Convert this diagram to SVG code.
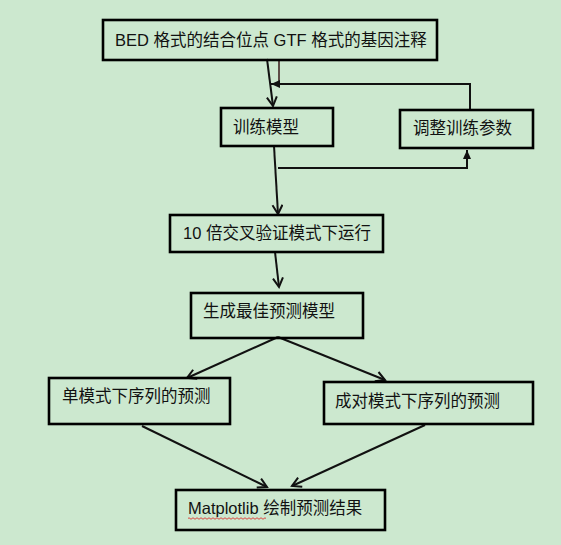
<svg xmlns="http://www.w3.org/2000/svg" width="561" height="545" viewBox="0 0 561 545">
<style>
.box{fill:none;stroke:#000;stroke-width:2.6}
.t{font-family:"Liberation Sans","Noto Sans CJK SC",sans-serif;font-size:16.5px;fill:#111}
.c{fill:none;stroke:#111;stroke-width:2}
</style>
<defs>
<marker id="v" markerWidth="12" markerHeight="12" refX="10" refY="6" orient="auto" markerUnits="userSpaceOnUse">
<path d="M1,1 L10,6 L1,11" fill="none" stroke="#111" stroke-width="2"/>
</marker>
<marker id="f" markerWidth="10" markerHeight="10" refX="9" refY="5" orient="auto" markerUnits="userSpaceOnUse">
<path d="M0,1 L9,5 L0,9 Z" fill="#111"/>
</marker>
</defs>
<rect width="561" height="545" fill="#CCE8CF"/>
<g id="connectors">
<path class="c" d="M267,59 L273,106" marker-end="url(#v)"/>
<path d="M279,59 L279,84" fill="none" stroke="#3a1a1a" stroke-width="1.5"/>
<path class="c" d="M470,109 L470,84 L271,84" marker-end="url(#f)"/>
<path class="c" d="M274,146 L278,214" marker-end="url(#v)"/>
<path class="c" d="M278,168 L467,168 L467,150" marker-end="url(#f)"/>
<path class="c" d="M275,252 L279,287" marker-end="url(#v)"/>
<path class="c" d="M278,337 L187,378" marker-end="url(#v)"/>
<path class="c" d="M278,337 L385,380" marker-end="url(#v)"/>
<path class="c" d="M142,426 L267,487" marker-end="url(#v)"/>
<path class="c" d="M425,425 L292,486" marker-end="url(#v)"/>
</g>
<g id="n1"><rect class="box" x="103" y="20" width="334" height="40"/><text class="t" x="115" y="46">BED 格式的结合位点 GTF 格式的基因注释</text></g>
<g id="n2"><rect class="box" x="221" y="108" width="112" height="38"/><text class="t" x="233" y="133">训练模型</text></g>
<g id="n3"><rect class="box" x="400" y="110" width="133" height="38"/><text class="t" x="413" y="134">调整训练参数</text></g>
<g id="n4"><rect class="box" x="170" y="215" width="213" height="37"/><text class="t" x="183" y="239">10 倍交叉验证模式下运行</text></g>
<g id="n5"><rect class="box" x="191" y="293" width="172" height="45"/><text class="t" x="203" y="317">生成最佳预测模型</text></g>
<g id="n6"><rect class="box" x="49" y="378" width="181" height="46"/><text class="t" x="62" y="402">单模式下序列的预测</text></g>
<g id="n7"><rect class="box" x="324" y="382" width="209" height="42"/><text class="t" x="335" y="407">成对模式下序列的预测</text></g>
<g id="n8"><rect class="box" x="176" y="490" width="209" height="40"/><text class="t" x="188" y="514">Matplotlib 绘制预测结果</text>
<path d="M188,518.5 q1,-1.5 2,0 t2,0 t2,0 t2,0 t2,0 t2,0 t2,0 t2,0 t2,0 t2,0 t2,0 t2,0 t2,0 t2,0 t2,0 t2,0 t2,0 t2,0 t2,0 t2,0 t2,0 t2,0 t2,0 t2,0 t2,0 t2,0 t2,0 t2,0 t2,0 t2,0 t2,0 t2,0 t2,0 t2,0 t2,0 t2,0 t2,0 t2,0 t2,0" fill="none" stroke="#e02020" stroke-width="0.8"/>
</g>
</svg>
